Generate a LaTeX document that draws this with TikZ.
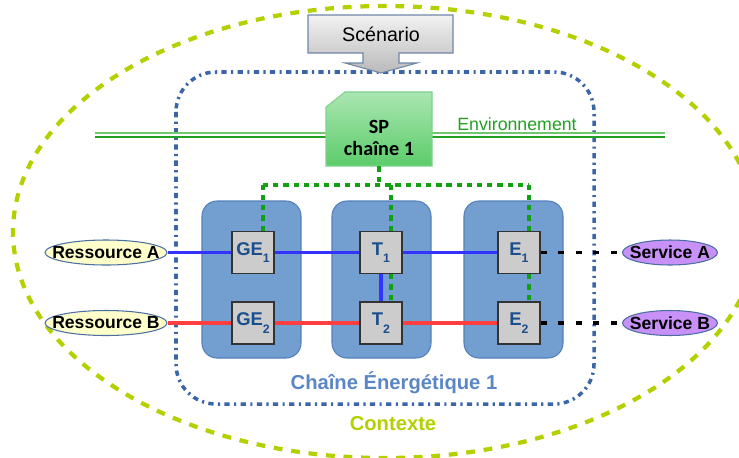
\documentclass[tikz,border=0pt]{standalone}
\usepackage{fontspec}
\setmainfont{Liberation Sans}
\newfontfamily\spfont{Carlito}
\usetikzlibrary{shapes.geometric, calc}
\definecolor{ctxgreen}{RGB}{181,208,0}
\definecolor{chainblue}{RGB}{58,102,168}
\definecolor{chaintext}{RGB}{91,134,197}
\definecolor{colfill}{RGB}{114,159,207}
\definecolor{colborder}{RGB}{84,128,186}
\definecolor{boxgray}{RGB}{204,204,204}
\definecolor{organetext}{RGB}{26,79,142}
\definecolor{fluxblue}{RGB}{51,51,255}
\definecolor{fluxred}{RGB}{255,63,63}
\definecolor{envgreen}{RGB}{34,160,34}
\definecolor{envlight}{RGB}{110,200,110}
\definecolor{cmdgreen}{RGB}{17,160,17}
\definecolor{spborder}{RGB}{125,211,138}
\definecolor{sptop}{RGB}{170,230,178}
\definecolor{spbottom}{RGB}{92,204,106}
\definecolor{scenborder}{RGB}{111,134,168}
\definecolor{ressfill}{RGB}{255,255,204}
\definecolor{servfill}{RGB}{199,145,247}
\definecolor{ellborder}{RGB}{74,111,160}
\newcommand{\indice}[1]{\raisebox{-0.75ex}{\fontsize{7}{8}\selectfont #1}}

\begin{document}
\begin{tikzpicture}[x=0.02cm, y=-0.02cm,
    bloc/.style={draw=colborder, fill=colfill, rounded corners=0.3cm, line width=0.6pt},
    organe/.style={draw=black!80, fill=boxgray, minimum size=0.84cm, inner sep=0pt,
        line width=0.8pt, text=organetext, font=\bfseries\fontsize{10.5}{12}\selectfont},
    ressource/.style={ellipse, draw=ellborder, fill=ressfill, line width=0.6pt,
        minimum width=2.44cm, minimum height=0.5cm, inner sep=0pt,
        font=\bfseries\fontsize{10}{12}\selectfont},
    service/.style={ressource, fill=servfill, minimum width=1.9cm},
    fluxA/.style={fluxblue, line width=2pt},
    fluxB/.style={fluxred, line width=2pt},
    lien/.style={black, line width=2pt, dash pattern=on 3.4pt off 6.6pt},
    cmd/.style={cmdgreen, line width=2pt, dash pattern=on 3pt off 2.8pt}
    ]
    \useasboundingbox (0,0) rectangle (739,457);

    % contexte et chaine
    \draw[ctxgreen, line width=2.4pt, dash pattern=on 5pt off 5pt]
    (385,232) ellipse [x radius=372, y radius=226];
    \draw[chainblue, line width=2pt, rounded corners=0.8cm,
        dash pattern=on 3pt off 2.5pt on 1.2pt off 2.5pt]
    (176,72) rectangle (594,404);

    % environnement
    \draw[envlight, line width=0.8pt] (95,133) -- (665,133);
    \draw[envgreen, line width=0.8pt] (95,137) -- (665,137);
    \node[text=envgreen, font=\fontsize{10.1}{12}\selectfont] (env) at (517,124) {Environnement};

    % blocs
    \draw[bloc] (202,201) rectangle (301,358);
    \draw[bloc] (332,201) rectangle (431,358);
    \draw[bloc] (464,201) rectangle (563,358);

    % scenario
    \shade[top color=gray!10, bottom color=gray!55, draw=scenborder, line width=0.6pt]
    (308,15) -- (453,15) -- (453,53) -- (399,53) -- (399,63) -- (417,63)
    -- (381,73) -- (345,63) -- (363,63) -- (363,53) -- (308,53) -- cycle;
    \node[font=\fontsize{11.2}{13}\selectfont] (scen) at (381,34) {Scénario};

    % SP
    \shade[top color=sptop, bottom color=spbottom, draw=spborder, line width=0.6pt]
    (326,107) -- (345,92) -- (432,92) -- (432,166) -- (326,166) -- cycle;
    \node[minimum width=2.12cm, minimum height=1.48cm, inner sep=0pt] (sp) at (379,129) {};
    \node[align=center, font=\spfont\bfseries\fontsize{11.5}{13}\selectfont] (sptxt)
        at (379,138) {SP\\chaîne 1};

    % organes
    \node[organe] (ge1) at (253,252.5) {GE\indice{1}};
    \node[organe] (ge2) at (253,323) {GE\indice{2}};
    \node[organe] (t1) at (381,252.5) {T\indice{1}};
    \node[organe] (t2) at (381,323) {T\indice{2}};
    \node[organe] (e1) at (519,252.5) {E\indice{1}};
    \node[organe] (e2) at (519,323) {E\indice{2}};

    \node[ressource] (ressA) at (106,252.5) {\makebox[0pt]{Ressource A}};
    \node[ressource] (ressB) at (106,323) {\makebox[0pt]{Ressource B}};
    \node[service] (servA) at (670,252.5) {\makebox[0pt]{Service A}};
    \node[service] (servB) at (670,323) {\makebox[0pt]{Service B}};

    % flux
    \draw[fluxA] (ressA) -- (ge1) -- (t1) -- (e1);
    \draw[fluxA] (t1) -- (t2);
    \draw[fluxB] (ressB) -- (ge2) -- (t2) -- (e2);
    \draw[lien] (e1) -- (servA);
    \draw[lien] (e2) -- (servB);

    % commande
    \coordinate (busL) at (263,185);
    \coordinate (busR) at (529,185);
    \draw[cmd] (sp.south) -- (sp.south |- busL);
    \draw[cmd] (busL) -- (busR);
    \foreach \o in {ge1, t1, e1}
        \draw[cmd] ($(\o.north)+(10,0)$) -- ++(0,-46.5);
    \draw[cmd] ($(t1.south)+(10,0)$) -- ($(t2.north)+(10,0)$);
    \draw[cmd] ($(e1.south)+(10,0)$) -- ($(e2.north)+(10,0)$);

    \node[text=chaintext, font=\bfseries\fontsize{11.5}{14}\selectfont] (lblchaine)
        at (394,383) {Chaîne Énergétique 1};
    \node[text=ctxgreen, font=\bfseries\fontsize{11.5}{14}\selectfont] (lblctx)
        at (393,424) {Contexte};
\end{tikzpicture}
\end{document}
